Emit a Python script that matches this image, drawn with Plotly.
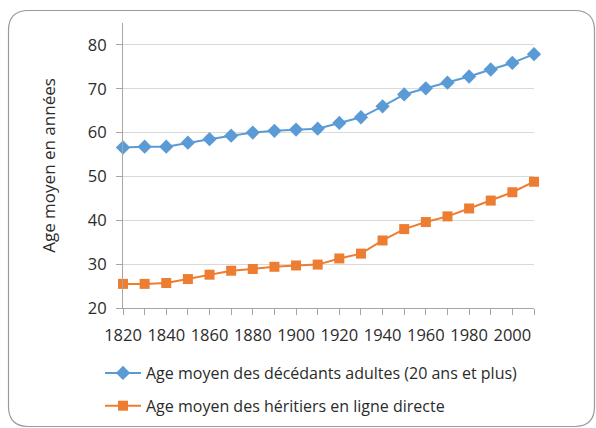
import plotly.graph_objects as go

years = [1820, 1830, 1840, 1850, 1860, 1870, 1880, 1890, 1900, 1910,
         1920, 1930, 1940, 1950, 1960, 1970, 1980, 1990, 2000, 2010]
deces = [56.6, 56.8, 56.8, 57.7, 58.5, 59.3, 60.0, 60.4, 60.7, 60.9,
         62.2, 63.5, 66.0, 68.7, 70.1, 71.4, 72.8, 74.4, 75.9, 77.9]
heritiers = [25.5, 25.5, 25.7, 26.6, 27.6, 28.5, 28.9, 29.4, 29.7, 29.9,
             31.3, 32.4, 35.4, 38.0, 39.6, 40.9, 42.7, 44.5, 46.4, 48.8]
name_deces = "Age moyen des décédants adultes (20 ans et plus)"
name_her = "Age moyen des héritiers en ligne directe"
y_title = "Age moyen en années"
x_tickvals = years
x_ticktext = [str(y) if y % 20 == 0 and y <= 2000 else "" for y in years]

W, H = 596, 428
L, R, T, B = 123, 62, 23, 120
PW, PH = W - L - R, H - T - B

def px(x):
    return (x - L) / PW

def py(y):
    return (H - B - y) / PH

x0, x1, y0, y1, r = 8.5, 594.5, 10.5, 426.5, 20
def P(x, y):
    return f"{px(x):.5f},{py(y):.5f}"
path = (f"M {P(x0 + r, y0)} L {P(x1 - r, y0)} Q {P(x1, y0)} {P(x1, y0 + r)} "
        f"L {P(x1, y1 - r)} Q {P(x1, y1)} {P(x1 - r, y1)} "
        f"L {P(x0 + r, y1)} Q {P(x0, y1)} {P(x0, y1 - r)} "
        f"L {P(x0, y0 + r)} Q {P(x0, y0)} {P(x0 + r, y0)} Z")

font = "'Open Sans', sans-serif"
tc = "#2b2b2b"

fig = go.Figure()
fig.add_trace(go.Scatter(x=years, y=deces, name=name_deces, mode="lines+markers",
                         legendgroup="a",
                         line=dict(color="#5B9BD5", width=2),
                         marker=dict(symbol="diamond", size=11, color="#5B9BD5"),
                         cliponaxis=False))
fig.add_trace(go.Scatter(x=years, y=heritiers, name=name_her, mode="lines+markers",
                         legendgroup="b",
                         line=dict(color="#ED7D31", width=2),
                         marker=dict(symbol="square", size=10, color="#ED7D31"),
                         cliponaxis=False))

fig.update_layout(
    width=W, height=H, autosize=False,
    margin=dict(l=L, r=R, t=T, b=B, autoexpand=False),
    paper_bgcolor="white", plot_bgcolor="white",
    font=dict(family=font, size=15, color=tc),
    showlegend=True,
    legend=dict(x=px(100), y=py(356), xanchor="left", yanchor="top",
                orientation="v", font=dict(size=16, color=tc),
                tracegroupgap=9, itemwidth=36, bgcolor="rgba(0,0,0,0)"),
    xaxis=dict(range=[1820, 2010], tickmode="array", tickvals=x_tickvals,
               ticktext=x_ticktext, showgrid=False, zeroline=False,
               showline=True, linecolor="#a6a6a6", linewidth=1,
               ticks="outside", ticklen=6, tickcolor="#a6a6a6",
               ticklabelstandoff=6, automargin=False,
               tickfont=dict(size=16.5, color=tc)),
    yaxis=dict(range=[20, 85], tickvals=[20, 30, 40, 50, 60, 70, 80],
               showgrid=True, gridcolor="#d9d9d9", gridwidth=1, zeroline=False,
               showline=True, linecolor="#a6a6a6", linewidth=1,
               ticks="outside", ticklen=6, tickcolor="#a6a6a6",
               ticklabelstandoff=6, automargin=False,
               tickfont=dict(size=16.5, color=tc)),
    shapes=[dict(type="path", xref="paper", yref="paper", path=path,
                 line=dict(color="#9a9a9a", width=1.2), layer="below")],
)
fig.update_yaxes(title=dict(text=y_title, font=dict(size=17, color=tc), standoff=27))

css_js = (
    "var s=document.createElement('style');"
    "s.textContent='html,body{margin:0;padding:0;overflow:hidden;width:596px;height:428px;}"
    "body>div{height:428px;overflow:hidden;}';"
    "document.head.appendChild(s);"
)
fig.write_html("out.html",
               config={"responsive": False, "displayModeBar": False},
               post_script=css_js)
